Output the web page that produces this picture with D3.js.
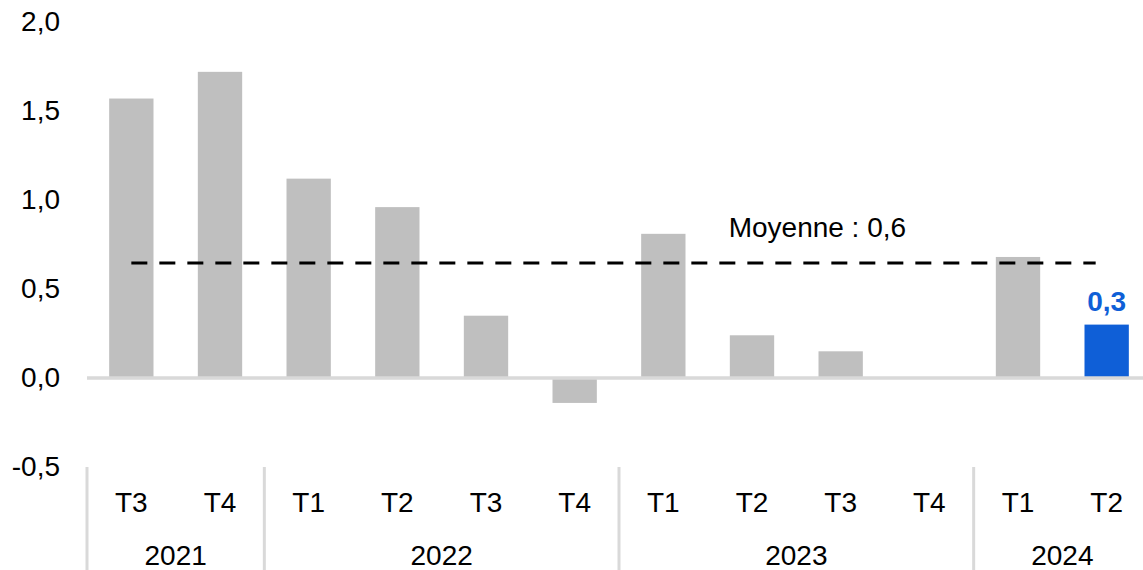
<!DOCTYPE html>
<html>
<head>
<meta charset="utf-8">
<script src="https://cdn.jsdelivr.net/npm/d3@7"></script>
<style>
  body { margin: 0; background: #fff; }
  text { font-family: "Liberation Sans", Arial, sans-serif; }
</style>
</head>
<body>
<div id="chart"></div>
<script>
// data
const years = ['2021', '2022', '2023', '2024'];
const quarters = ['T3', 'T4', 'T1', 'T2', 'T3', 'T4', 'T1', 'T2', 'T3', 'T4', 'T1', 'T2'];
const quarterYears = ['2021', '2021', '2022', '2022', '2022', '2022', '2023', '2023', '2023', '2023', '2024', '2024'];
const values = [1.57, 1.72, 1.12, 0.96, 0.35, -0.14, 0.81, 0.24, 0.15, 0.0, 0.68, 0.30];
const yTicks = [-0.5, 0, 0.5, 1.0, 1.5, 2.0];

const WIDTH = 1143;
const HEIGHT = 570;
const GREY = '#bfbfbf';
const BLUE = '#0f5fd7';
const LINE = '#d9d9d9';

const data = quarters.map((q, i) => ({ key: quarterYears[i] + '-' + q, q: q, year: quarterYears[i], value: values[i] }));

const svg = d3.select('#chart')
   .append('svg')
   .attr('width', WIDTH)
   .attr('height', HEIGHT);

const x = d3.scaleBand()
   .domain(data.map(d => d.key))
   .range([87, 1151])
   .padding(0);

const y = d3.scaleLinear()
   .domain([-0.5, 2.0])
   .range([467, 22]);

const fmt = v => d3.format('.1f')(v).replace('.', ',').replace('−', '-');

// y axis labels (no line, no ticks)
const yAxis = d3.axisLeft(y)
   .tickValues(yTicks)
   .tickFormat(fmt)
   .tickSize(0)
   .tickPadding(0);

svg.append('g')
   .attr('transform', 'translate(60,0)')
   .call(yAxis)
   .call(g => g.select('.domain').remove())
   .call(g => g.selectAll('text')
      .attr('font-size', 28)
      .attr('fill', '#000')
      .attr('font-family', '"Liberation Sans", Arial, sans-serif'));

// bars
const step = x.step();
svg.selectAll('rect.bar')
   .data(data)
   .enter()
   .append('rect')
   .attr('class', 'bar')
   .attr('x', d => x(d.key) + step * 0.25)
   .attr('width', step * 0.5)
   .attr('y', d => y(Math.max(0, d.value)))
   .attr('height', d => Math.abs(y(d.value) - y(0)))
   .attr('fill', (d, i) => i === data.length - 1 ? BLUE : GREY);

// zero line
svg.append('line')
   .attr('x1', 87)
   .attr('x2', WIDTH)
   .attr('y1', y(0))
   .attr('y2', y(0))
   .attr('stroke', LINE)
   .attr('stroke-width', 3.5);

// mean line
const mean = d3.mean(values);
const first = data[0].key;
const last = data[data.length - 1].key;
svg.append('line')
   .attr('x1', x(first) + step / 2)
   .attr('x2', x(last) + step / 2 - 11)
   .attr('y1', y(mean))
   .attr('y2', y(mean))
   .attr('stroke', '#000')
   .attr('stroke-width', 3)
   .attr('stroke-dasharray', '16,12');

svg.append('text')
   .attr('x', x(data[7].key) + 21)
   .attr('y', y(mean) - 26)
   .attr('font-size', 28)
   .text('Moyenne : ' + d3.format('.1f')(mean).replace('.', ','));

// last value label
const lastD = data[data.length - 1];
svg.append('text')
   .attr('x', x(lastD.key) + step / 2)
   .attr('y', y(lastD.value) - 14)
   .attr('text-anchor', 'middle')
   .attr('font-size', 28)
   .attr('font-weight', 'bold')
   .attr('fill', BLUE)
   .text(fmt(lastD.value));

// quarter labels
svg.selectAll('text.q')
   .data(data)
   .enter()
   .append('text')
   .attr('class', 'q')
   .attr('x', d => x(d.key) + step / 2)
   .attr('y', 512)
   .attr('text-anchor', 'middle')
   .attr('font-size', 28)
   .text(d => d.q);

// year groups
const groups = years.map(yr => {
   const keys = data.filter(d => d.year === yr).map(d => d.key);
   return { year: yr, start: x(keys[0]), end: x(keys[keys.length - 1]) + step };
});

svg.selectAll('line.sep')
   .data(groups)
   .enter()
   .append('line')
   .attr('class', 'sep')
   .attr('x1', d => d.start)
   .attr('x2', d => d.start)
   .attr('y1', 467)
   .attr('y2', HEIGHT)
   .attr('stroke', LINE)
   .attr('stroke-width', 3);

svg.selectAll('text.year')
   .data(groups)
   .enter()
   .append('text')
   .attr('class', 'year')
   .attr('x', d => (d.start + Math.min(d.end, WIDTH + 8)) / 2)
   .attr('y', 565)
   .attr('text-anchor', 'middle')
   .attr('font-size', 28)
   .text(d => d.year);
</script>
</body>
</html>
